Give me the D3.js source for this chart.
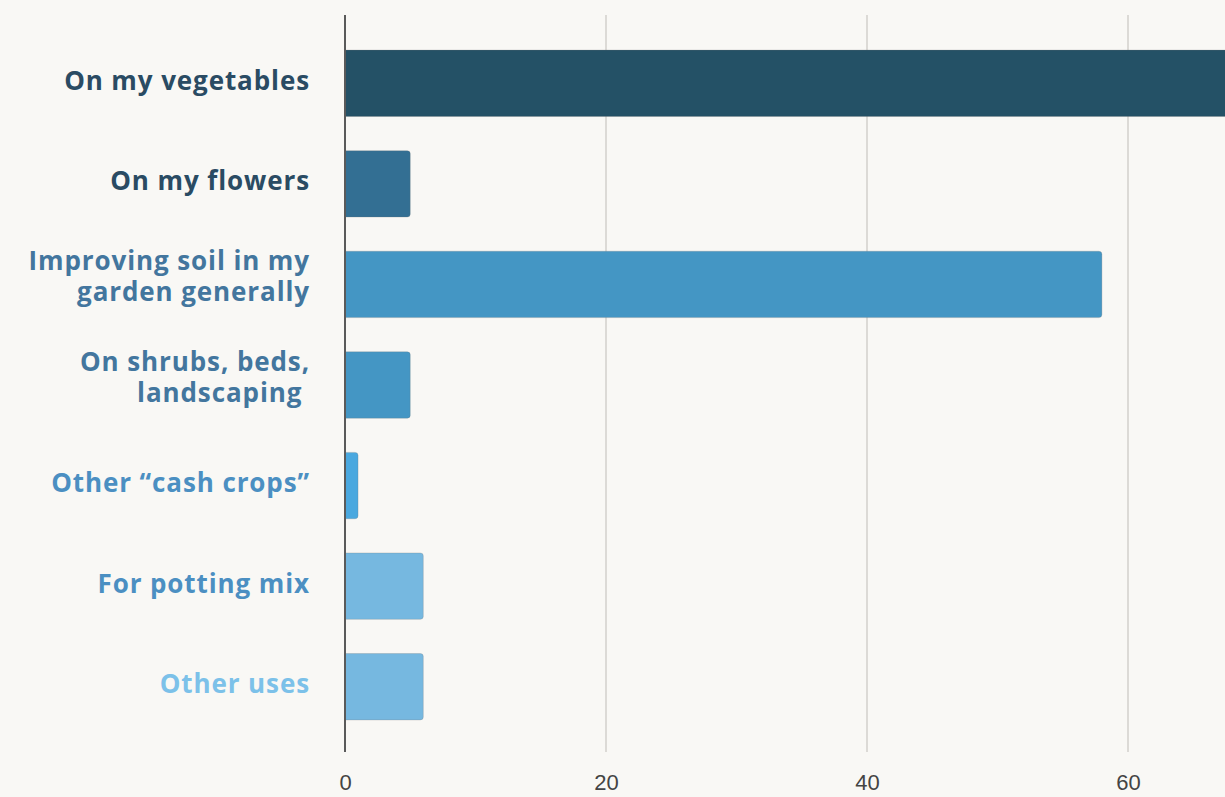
<!DOCTYPE html>
<html>
<head>
<meta charset="utf-8">
<script src="https://cdn.jsdelivr.net/npm/d3@7"></script>
<style>
  html, body { margin: 0; padding: 0; background: #f9f8f5; }
  svg { display: block; }
</style>
</head>
<body>
<svg id="chart" width="1225" height="797"></svg>
<script>
// Survey answers: how the product is used
const categories = [
  ["On my vegetables"],
  ["On my flowers"],
  ["Improving soil in my", "garden generally"],
  ["On shrubs, beds,", "landscaping "],
  ["Other \u201ccash crops\u201d"],
  ["For potting mix"],
  ["Other uses"]
];
const values = [72, 5, 58, 5, 1, 6, 6];
const barColors = ["#245166", "#336f93", "#4496c4", "#4496c4", "#4aa8df", "#76b8e0", "#76b8e0"];
const labelColors = ["#2a4b63", "#2a4b63", "#43769e", "#43769e", "#4b8fc2", "#4b8fc2", "#7cc1e9"];
const tickValues = [0, 20, 40, 60];

const svg = d3.select("#chart");
const W = 1225, H = 797;

const x = d3.scaleLinear().domain([0, 60]).range([345, 1128]);
const y = d3.scaleBand()
  .domain(d3.range(categories.length))
  .range([33, 737])
  .paddingInner(0.34)
  .paddingOuter(0.17);

// vertical gridlines
svg.append("g")
  .selectAll("line")
  .data(tickValues.filter(d => d !== 0))
  .join("line")
  .attr("x1", d => x(d)).attr("x2", d => x(d))
  .attr("y1", 15).attr("y2", 752)
  .attr("stroke", "#dcdad6")
  .attr("stroke-width", 2);

// bars, clipped at the right edge of the drawing
svg.append("clipPath").attr("id", "plotClip")
  .append("rect").attr("x", 0).attr("y", 0).attr("width", W).attr("height", H);

svg.append("g")
  .attr("clip-path", "url(#plotClip)")
  .selectAll("path")
  .data(values)
  .join("path")
  .attr("d", (d, i) => {
    const x0 = x(0), x1 = x(d), y0 = y(i), h = y.bandwidth();
    const r = Math.min(3, (x1 - x0) / 2);
    return `M${x0},${y0}H${x1 - r}Q${x1},${y0} ${x1},${y0 + r}V${y0 + h - r}Q${x1},${y0 + h} ${x1 - r},${y0 + h}H${x0}Z`;
  })
  .attr("fill", (d, i) => barColors[i])
  .attr("stroke", "rgba(120,120,120,0.25)")
  .attr("stroke-width", 1);

// zero baseline
svg.append("line")
  .attr("x1", x(0)).attr("x2", x(0))
  .attr("y1", 15).attr("y2", 752)
  .attr("stroke", "#5a5a5a")
  .attr("stroke-width", 2);

// x axis tick labels
const xAxis = d3.axisBottom(x).tickValues(tickValues).tickSize(0).tickPadding(0);
const gx = svg.append("g").attr("transform", "translate(0,774)").call(xAxis);
gx.select(".domain").remove();
gx.selectAll("text")
  .attr("font-family", "'Liberation Sans', Arial, sans-serif")
  .attr("font-size", 22)
  .attr("fill", "#444")
  .attr("dy", "0.71em");

// category labels, wrapped lines centred on each bar
const lineGap = 31;
const labels = svg.append("g")
  .selectAll("text")
  .data(categories)
  .join("text")
  .attr("text-anchor", "end")
  .attr("font-family", "'Open Sans', 'Noto Sans', sans-serif")
  .attr("font-weight", 700)
  .attr("font-size", 26)
  .attr("letter-spacing", 0.9)
  .style("white-space", "pre")
  .attr("fill", (d, i) => labelColors[i])
  .attr("transform", (d, i) => `translate(310, ${y(i) + y.bandwidth() / 2 - 3 - 5 * (d.length - 1)})`);

labels.selectAll("tspan")
  .data(d => d.map((line, k) => ({ line, k, n: d.length })))
  .join("tspan")
  .attr("x", 0)
  .attr("y", d => (d.k - (d.n - 1) / 2) * lineGap)
  .attr("dy", "0.36em")
  .text(d => d.line);
</script>
</body>
</html>
